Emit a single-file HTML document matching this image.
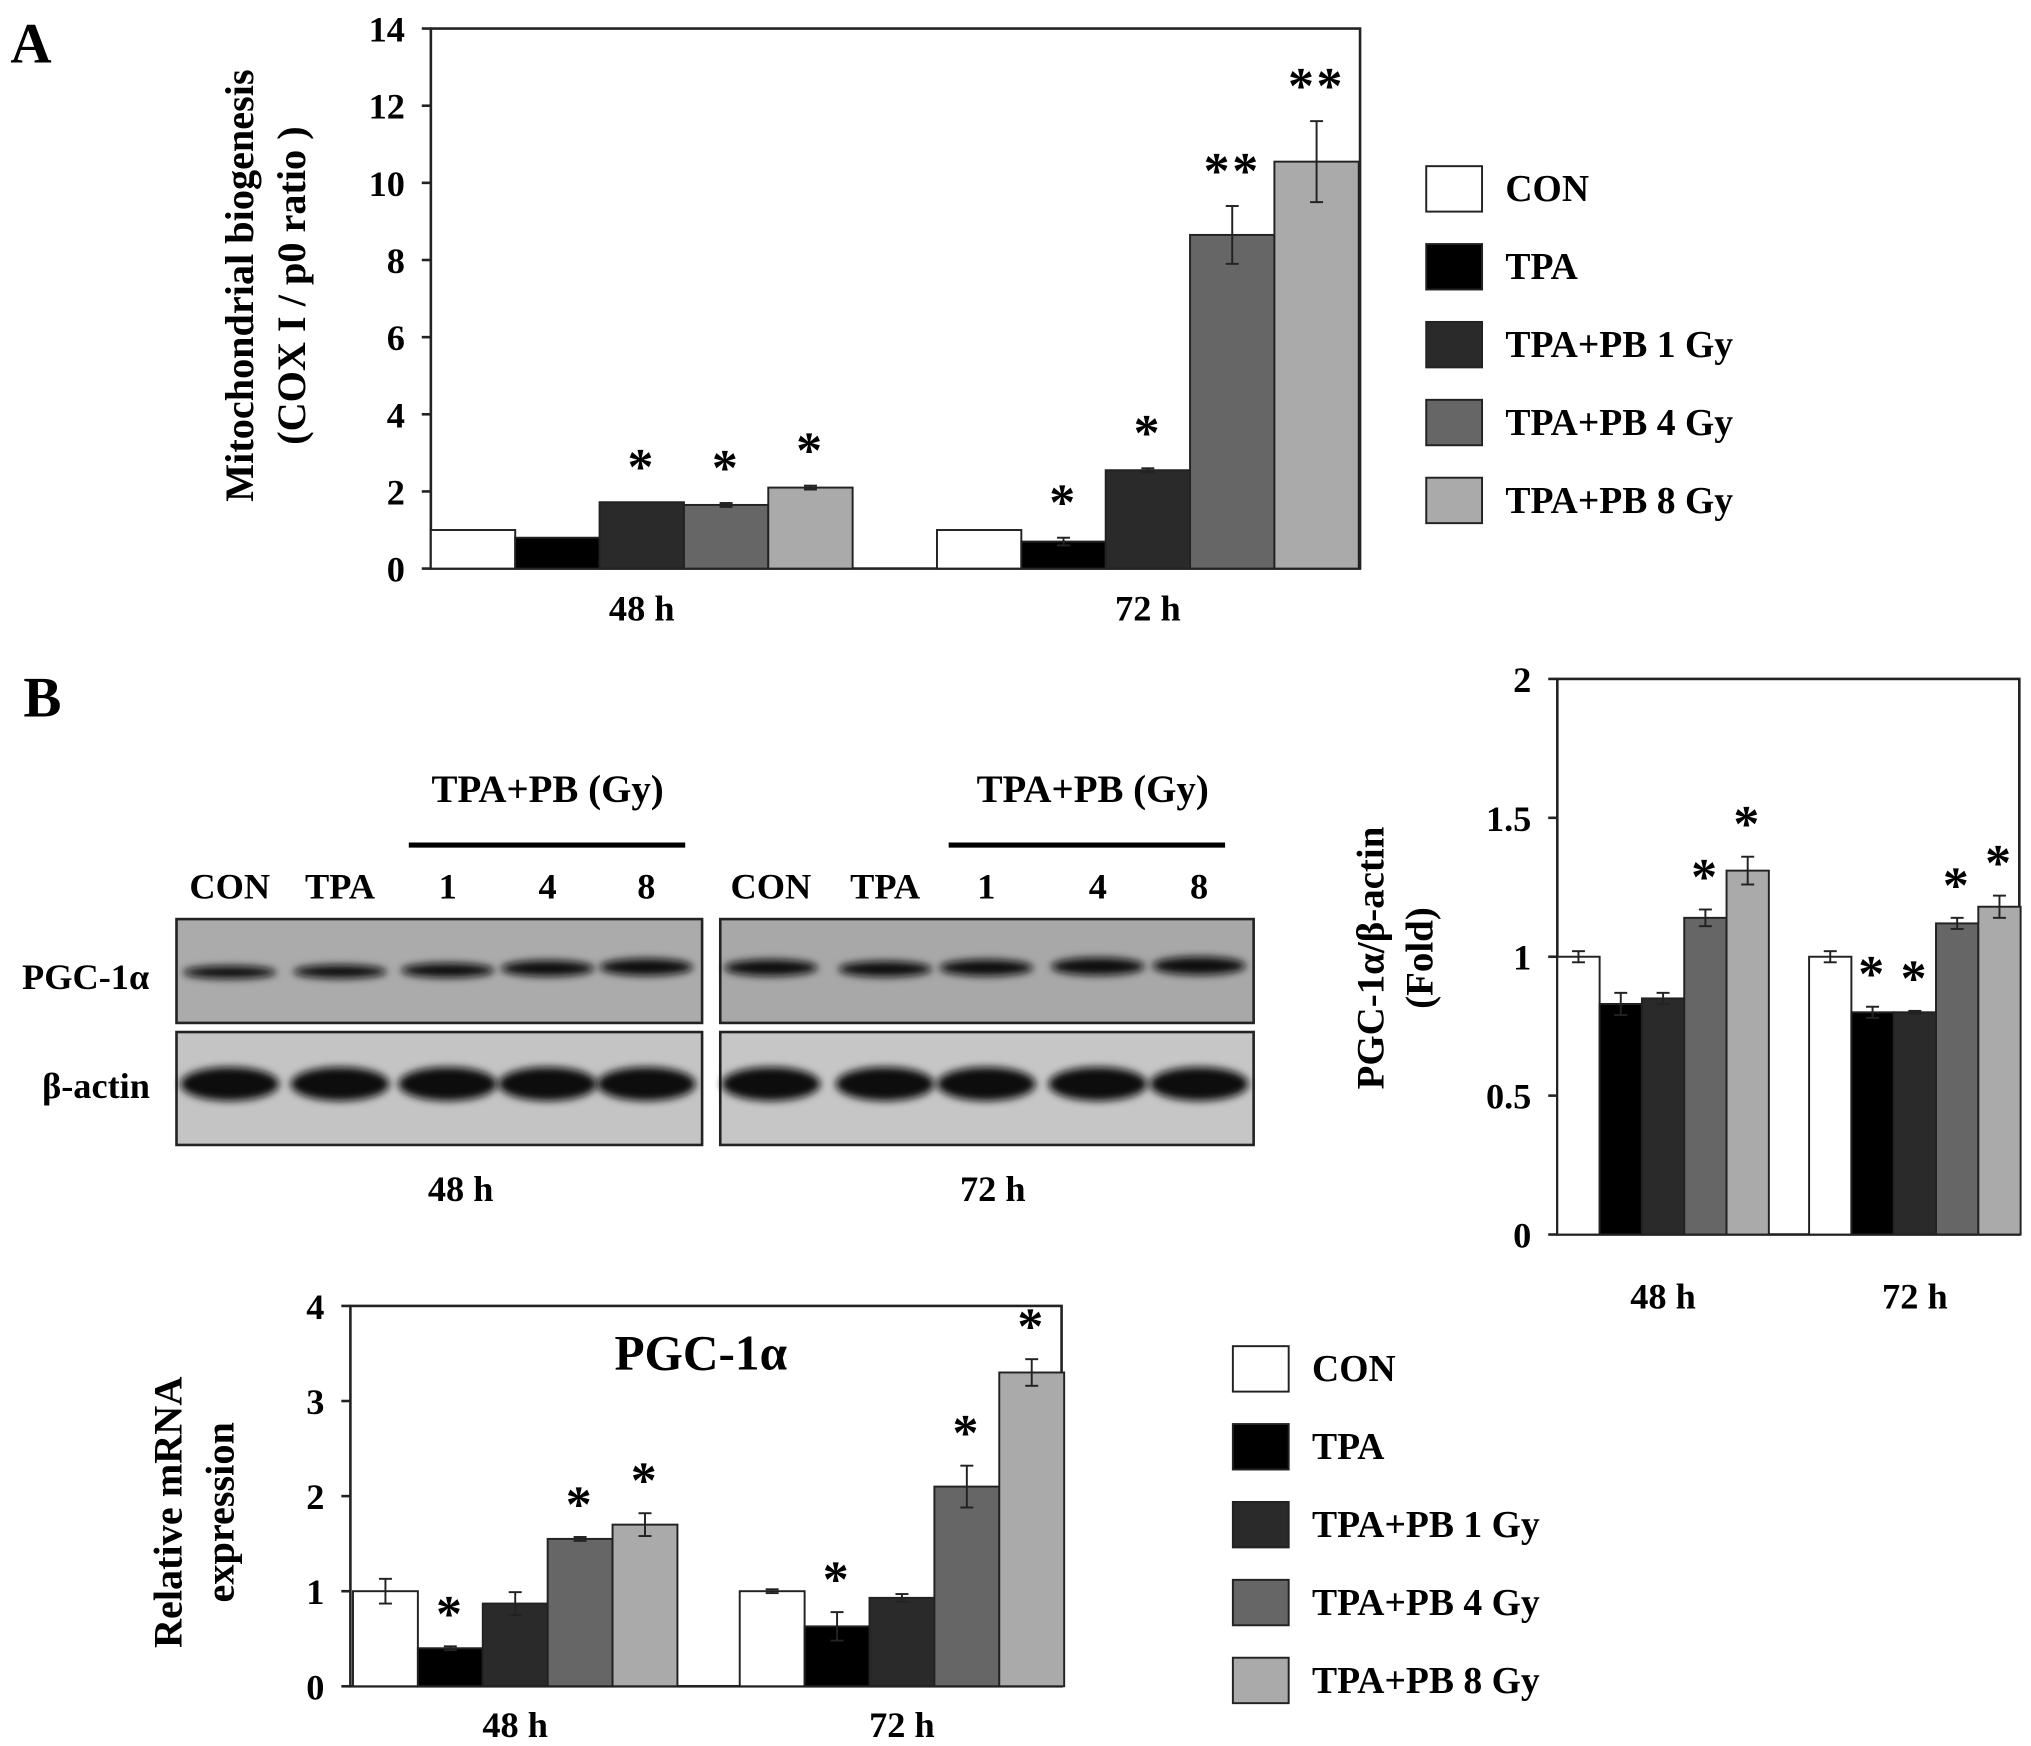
<!DOCTYPE html>
<html><head><meta charset="utf-8"><style>
html,body{margin:0;padding:0;background:#fff}
svg{display:block;font-family:"Liberation Serif",serif;font-weight:bold}
</style></head><body>
<svg id="s" width="2031" height="1746" viewBox="0 0 1565 1345" preserveAspectRatio="none">
<defs><filter id="bl" x="-20%" y="-100%" width="140%" height="300%"><feGaussianBlur stdDeviation="3"/></filter></defs>
<text x="8" y="48" font-size="44">A</text>
<text x="18" y="552" font-size="44">B</text>
<g id="gA"></g>
<g id="gR"></g>
<g id="gM"></g>
<g id="wb">
<rect x="136" y="708" width="405" height="80" fill="#ababab" stroke="#222" stroke-width="2"/>
<rect x="555" y="708" width="411" height="80" fill="#a8a8a8" stroke="#222" stroke-width="2"/>
<rect x="136" y="795" width="405" height="87" fill="#c4c4c4" stroke="#222" stroke-width="2"/>
<rect x="555" y="795" width="411" height="87" fill="#c6c6c6" stroke="#222" stroke-width="2"/>
<text x="66" y="762" font-size="28" text-anchor="middle">PGC-1α</text>
<text x="74" y="846" font-size="28" text-anchor="middle">β-actin</text>
<text x="422" y="618" font-size="30" text-anchor="middle">TPA+PB (Gy)</text>
<text x="842" y="618" font-size="30" text-anchor="middle">TPA+PB (Gy)</text>
<line x1="315" y1="651" x2="528" y2="651" stroke="#000" stroke-width="4"/>
<line x1="731" y1="651" x2="944" y2="651" stroke="#000" stroke-width="4"/>
<text x="355" y="925" font-size="28" text-anchor="middle">48 h</text>
<text x="765" y="925" font-size="28" text-anchor="middle">72 h</text>
</g>
</svg>
<script>
// Chart A data
const catsA=["48 h","72 h"];
const seriesNames=["CON","TPA","TPA+PB 1 Gy","TPA+PB 4 Gy","TPA+PB 8 Gy"];
const colors=["#fff","#000","#2a2a2a","#666","#aaa"];
const a48=[1.0,0.8,1.72,1.65,2.1];
const a72=[1.0,0.7,2.55,8.65,10.55];
const a48e=[0,0,0,0.05,0.05];
const a72e=[0,0.1,0.05,0.75,1.05];
const a48s=["","","*","*","*"];
const a72s=["","*","*","**","**"];
const ticksA=[0,2,4,6,8,10,12,14];
// Protein data
const r48=[1.0,0.83,0.85,1.14,1.31];
const r72=[1.0,0.8,0.8,1.12,1.18];
const r48e=[0.02,0.04,0.02,0.03,0.05];
const r72e=[0.02,0.02,0.005,0.02,0.04];
const r48s=["","","","*","*"];
const r72s=["","*","*","*","*"];
const ticksR=["0","0.5","1","1.5","2"];
// mRNA data
const m48=[1.0,0.4,0.87,1.55,1.7];
const m72=[1.0,0.63,0.93,2.1,3.3];
const m48e=[0.13,0.02,0.12,0.02,0.12];
const m72e=[0.02,0.15,0.04,0.22,0.14];
const m48s=["","*","","*","*"];
const m72s=["","*","","*","*"];
const ticksM=[0,1,2,3,4];
const blotLanes=["CON","TPA","1","4","8"];
const pgc48=[0.5,0.55,0.65,0.8,0.9];
const pgc72=[0.85,0.75,0.85,0.95,1.0];

const NS="http://www.w3.org/2000/svg";
function el(p,t,a,txt){const e=document.createElementNS(NS,t);for(const k in a)e.setAttribute(k,a[k]);if(txt!=null)e.textContent=txt;p.appendChild(e);return e;}

function chart(g,o){
  const y=v=>o.y0-(v/o.max)*(o.y0-o.y1);
  el(g,'rect',{x:o.x0,y:o.y1,width:o.x1-o.x0,height:o.y0-o.y1,fill:'none',stroke:'#222','stroke-width':2});
  o.ticks.forEach(t=>{const v=parseFloat(t);
    el(g,'line',{x1:o.x0-7,x2:o.x0,y1:y(v),y2:y(v),stroke:'#222','stroke-width':2});
    const tx=el(g,'text',{x:o.x0-20,y:y(v)+10,'font-size':o.fs,'text-anchor':'end'},t);
    
    });
  o.groups.forEach((gr,gi)=>{
    gr.vals.forEach((v,i)=>{
      const bx=gr.start+i*o.bw;
      const b=el(g,'rect',{x:bx,y:y(v),width:o.bw,height:o.y0-y(v),fill:colors[i],stroke:'#222','stroke-width':1.5});
      
      
      const cx=bx+o.bw/2,e=gr.err[i];
      if(e>0){el(g,'line',{x1:cx,x2:cx,y1:y(v+e),y2:y(v-e),stroke:'#222','stroke-width':1.5});
        el(g,'line',{x1:cx-5,x2:cx+5,y1:y(v+e),y2:y(v+e),stroke:'#222','stroke-width':1.5});
        el(g,'line',{x1:cx-5,x2:cx+5,y1:y(v-e),y2:y(v-e),stroke:'#222','stroke-width':1.5});}
      if(gr.stars[i]){const s=el(g,'text',{x:cx,y:y(v+e)+o.sOff,'font-size':o.sfs,'text-anchor':'middle','letter-spacing':'2'},gr.stars[i]);
        
        }
    });
    const lx=gr.start+o.bw*2.5;
    const xl=el(g,'text',{x:lx,y:o.xly,'font-size':o.fs,'text-anchor':'middle'},catsA[gi]);
    
    
  });
  o.title.forEach((t,i)=>{el(g,'text',{transform:`translate(${o.tx[i]},${o.ty}) rotate(-90)`,'font-size':o.tfs,'text-anchor':'middle'},t);});
}
chart(document.getElementById('gA'),{x0:332,x1:1048,y0:438,y1:22,max:14,ticks:ticksA.map(String),bw:65,fs:28,sfs:40,sOff:-14,xly:478,
 groups:[{start:332,vals:a48,err:a48e,stars:a48s},{start:722,vals:a72,err:a72e,stars:a72s}],
 title:["Mitochondrial biogenesis","(COX I / p0 ratio )"],tx:[195,235],ty:220,tfs:31});
chart(document.getElementById('gR'),{x0:1200,x1:1556,y0:951,y1:523,max:2,ticks:ticksR,bw:32.6,fs:28,sfs:40,sOff:-12,xly:1008,
 groups:[{start:1200,vals:r48,err:r48e,stars:r48s},{start:1394,vals:r72,err:r72e,stars:r72s}],
 title:["PGC-1α/β-actin","(Fold)"],tx:[1066,1104],ty:738,tfs:30});
chart(document.getElementById('gM'),{x0:270,x1:818,y0:1299,y1:1006,max:4,ticks:ticksM.map(String),bw:50,fs:28,sfs:40,sOff:-12,xly:1338,
 groups:[{start:272,vals:m48,err:m48e,stars:m48s},{start:570,vals:m72,err:m72e,stars:m72s}],
 title:["Relative mRNA","expression"],tx:[140,180],ty:1165,tfs:31});
el(document.getElementById('gM'),'text',{x:540,y:1055,'font-size':38,'text-anchor':'middle'},'PGC-1α');

function legend(x,y0,id){
  const g=el(document.getElementById('s'),'g',{});
  
  
  seriesNames.forEach((n,i)=>{const y=y0+i*60;
    el(g,'rect',{x:x,y:y,width:43,height:35,fill:colors[i],stroke:'#222','stroke-width':1.5});
    const t=el(g,'text',{x:x+61,y:y+27,'font-size':29},n);
    
    });
}
legend(1099,128,'legend-a');legend(950,1037,'legend-b');

const wb=document.getElementById('wb');
const lx48=[177,262,345,422,498],lx72=[594,682,760,846,924];
[[lx48,pgc48],[lx72,pgc72]].forEach(([xs,pg])=>{
  xs.forEach((x,i)=>{
    el(wb,'text',{x:x,y:692,'font-size':28,'text-anchor':'middle'},blotLanes[i]);
    el(wb,'ellipse',{cx:x,cy:754-pg[i]*10,rx:36,ry:3+pg[i]*4,fill:'#111',filter:'url(#bl)'});
    el(wb,'ellipse',{cx:x,cy:835,rx:38,ry:13,fill:'#111',filter:'url(#bl)'});
  });
});
</script>
</body></html>
